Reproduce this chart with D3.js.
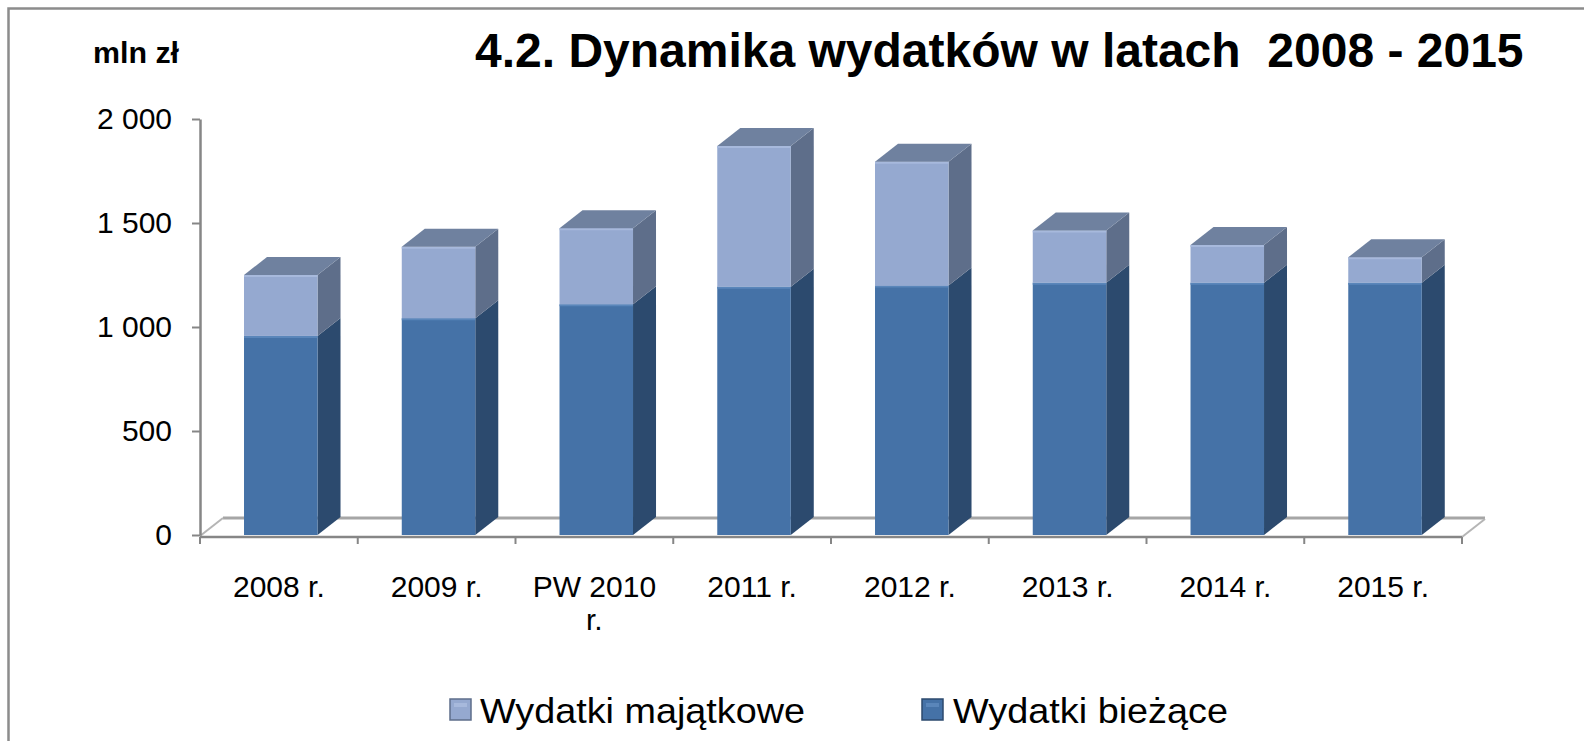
<!DOCTYPE html>
<html>
<head>
<meta charset="utf-8">
<script src="https://cdn.jsdelivr.net/npm/d3@7"></script>
<style>
  html, body { margin: 0; padding: 0; background: #fff; }
  svg { display: block; font-family: Arial, "Liberation Sans", sans-serif; }
</style>
</head>
<body>
<svg id="chart" width="1584" height="741"></svg>
<script>
// ---- data ----
const categories = ["2008 r.", "2009 r.", "PW 2010 r.", "2011 r.", "2012 r.", "2013 r.", "2014 r.", "2015 r."];
const wydatkiBiezace = [957, 1042, 1109, 1194, 1199, 1213, 1213, 1213];
const wydatkiMajatkowe = [293, 344, 366, 676, 596, 251, 181, 122];
const yTicks = [0, 500, 1000, 1500, 2000];
const seriesNames = ["Wydatki majątkowe", "Wydatki bieżące"];
const titleText = "4.2. Dynamika wydatków w latach  2008 - 2015";
const unitText = "mln zł";

// ---- layout ----
const svg = d3.select("#chart");
const plot = { left: 200, right: 1462, top: 119, bottom: 535 };
const depth = { dx: 23, dy: -18 };

const x = d3.scaleBand().domain(categories).range([plot.left, plot.right]).padding(0);
const y = d3.scaleLinear().domain([0, 2000]).range([plot.bottom, plot.top]);
const bw = x.bandwidth();
const barOffset = bw * 0.279, barW = bw * 0.466;

const pl = d3.formatLocale({ decimal: ",", thousands: "\u00a0", grouping: [3], currency: ["", " zł"] });
const fmt = pl.format(",d");

const colors = {
  biez: { front: "#4572a7", side: "#2c4a6e", top: "#3b5d89", hi: "#5a86ba" },
  maj:  { front: "#95a9d0", side: "#5e6e8a", top: "#6f819f", hi: "#a7b9dc" }
};

// outer frame
svg.append("rect").attr("x", 8.5).attr("y", 8.5).attr("width", 1620).attr("height", 800)
  .attr("fill", "none").attr("stroke", "#8c8c8c").attr("stroke-width", 2.5);

// title & unit
svg.append("text").attr("x", 475).attr("y", 67).attr("font-size", 48).attr("font-weight", "bold")
  .attr("fill", "#000").attr("xml:space", "preserve").style("white-space", "pre").text(titleText);
svg.append("text").attr("x", 93).attr("y", 63).attr("font-size", 29).attr("font-weight", "bold")
  .attr("fill", "#000").attr("textLength", 86).attr("lengthAdjust", "spacingAndGlyphs").text(unitText);

// floor (3D)
const floor = svg.append("g");
floor.append("line").attr("x1", plot.left + depth.dx).attr("x2", plot.right + depth.dx)
  .attr("y1", plot.bottom + 1 + depth.dy).attr("y2", plot.bottom + 1 + depth.dy)
  .attr("stroke", "#a6a6a6").attr("stroke-width", 3);
floor.append("line").attr("x1", plot.left).attr("y1", plot.bottom + 1)
  .attr("x2", plot.left + depth.dx).attr("y2", plot.bottom + 1 + depth.dy)
  .attr("stroke", "#b5b5b5").attr("stroke-width", 2);
floor.append("line").attr("x1", plot.right).attr("y1", plot.bottom + 2)
  .attr("x2", plot.right + depth.dx).attr("y2", plot.bottom + 2 + depth.dy)
  .attr("stroke", "#b5b5b5").attr("stroke-width", 2);

// bars
const stacked = categories.map((c, i) => [
  { key: "biez", y0: 0, y1: wydatkiBiezace[i] },
  { key: "maj", y0: wydatkiBiezace[i], y1: wydatkiBiezace[i] + wydatkiMajatkowe[i] }
]);
const bars = svg.append("g");
categories.forEach((c, i) => {
  const g = bars.append("g");
  const x0 = x(c) + barOffset, x1 = x0 + barW;
  stacked[i].forEach((s, j) => {
    const col = colors[s.key];
    const yt = y(s.y1), yb = y(s.y0);
    g.append("polygon").attr("points", [
      [x1, yt], [x1 + depth.dx, yt + depth.dy], [x1 + depth.dx, yb + depth.dy], [x1, yb]
    ].map(p => p.join(",")).join(" ")).attr("fill", col.side);
    g.append("rect").attr("x", x0).attr("y", yt).attr("width", barW).attr("height", yb - yt)
      .attr("fill", col.front);
    g.append("line").attr("x1", x0).attr("x2", x1).attr("y1", yt + 1).attr("y2", yt + 1)
      .attr("stroke", col.hi).attr("stroke-width", 2);
    if (j === stacked[i].length - 1) {
      g.append("polygon").attr("points", [
        [x0, yt], [x0 + depth.dx, yt + depth.dy], [x1 + depth.dx, yt + depth.dy], [x1, yt]
      ].map(p => p.join(",")).join(" ")).attr("fill", col.top);
    }
  });
});

// y axis
const yAxis = svg.append("g").attr("transform", `translate(${plot.left},0)`)
  .call(d3.axisLeft(y).tickValues(yTicks).tickFormat(fmt).tickSize(8).tickSizeOuter(0).tickPadding(20));
yAxis.select(".domain").attr("stroke", "#868686").attr("stroke-width", 2.5);
yAxis.selectAll(".tick line").attr("stroke", "#868686").attr("stroke-width", 2);
yAxis.selectAll(".tick text").attr("font-size", 30).attr("fill", "#000")
  .attr("font-family", "Arial, 'Liberation Sans', sans-serif");

// x axis line + boundary ticks
const xg = svg.append("g");
xg.append("line").attr("x1", plot.left).attr("x2", plot.right).attr("y1", plot.bottom + 2).attr("y2", plot.bottom + 2)
  .attr("stroke", "#868686").attr("stroke-width", 2.5);
const bounds = categories.map(c => x(c)).concat([plot.right]);
xg.selectAll("line.tk").data(bounds).join("line").attr("class", "tk")
  .attr("x1", d => d).attr("x2", d => d).attr("y1", plot.bottom + 2).attr("y2", plot.bottom + 9)
  .attr("stroke", "#868686").attr("stroke-width", 2);

// category labels (wrapped like the original)
const lbl = xg.selectAll("text.cat").data(categories).join("text").attr("class", "cat")
  .attr("x", d => x(d) + bw / 2).attr("y", 597).attr("text-anchor", "middle")
  .attr("font-size", 30).attr("fill", "#000");
lbl.each(function (d) {
  const t = d3.select(this);
  t.text(d);
  if (this.getComputedTextLength() > bw * 0.85) {
    const words = d.split(" ");
    const last = words.pop();
    t.text(null);
    t.append("tspan").attr("x", x(d) + bw / 2).attr("dy", 0).text(words.join(" "));
    t.append("tspan").attr("x", x(d) + bw / 2).attr("dy", 33).text(last);
  }
});

// legend
const legend = svg.append("g");
const legendItems = [
  { name: seriesNames[0], col: colors.maj, sx: 450, tx: 480, tw: 325 },
  { name: seriesNames[1], col: colors.biez, sx: 922, tx: 953, tw: 275 }
];
legendItems.forEach(it => {
  legend.append("rect").attr("x", it.sx).attr("y", 699).attr("width", 21).attr("height", 21)
    .attr("fill", it.col.front).attr("stroke", it.col.side).attr("stroke-width", 1.5);
  legend.append("rect").attr("x", it.sx + 4).attr("y", 703).attr("width", 13).attr("height", 4)
    .attr("fill", it.col.hi);
  legend.append("text").attr("x", it.tx).attr("y", 723).attr("font-size", 35).attr("fill", "#000")
    .attr("textLength", it.tw).attr("lengthAdjust", "spacingAndGlyphs").text(it.name);
});
</script>
</body>
</html>
